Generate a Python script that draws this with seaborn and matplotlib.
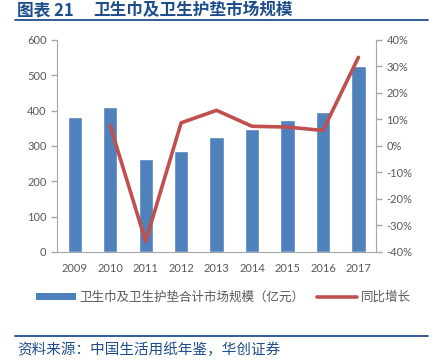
import numpy as np
import pandas as pd
import matplotlib
matplotlib.use('Agg')
import matplotlib.pyplot as plt
import seaborn as sns
from matplotlib.lines import Line2D
from matplotlib.patches import Patch

# data
years = ['2009', '2010', '2011', '2012', '2013', '2014', '2015', '2016', '2017']
market_size = [382, 411, 263, 286, 324, 348, 373, 395, 527]   # 亿元
yoy_growth = [np.nan, 7.6, -36.0, 8.7, 13.4, 7.4, 7.1, 5.8, 33.4]  # %

bar_label = '卫生巾及卫生护垫合计市场规模（亿元）'
line_label = '同比增长'

sns.set_style('white')
plt.rcParams['font.family'] = ['Lato', 'Noto Sans CJK SC', 'DejaVu Sans']

df = pd.DataFrame({'year': years, 'size': market_size, 'growth': yoy_growth})
df['pos'] = df.index

blue = '#4F81BD'
red = '#C0504D'
grey = '#595959'
axis_grey = '#A6A6A6'
navy = '#1F4E8C'

fig = plt.figure(figsize=(4.42, 3.62), dpi=100)
ax = fig.add_axes([0.129, 0.304, 0.722, 0.586])

sns.barplot(data=df, x='year', y='size', color=blue, width=0.4,
            saturation=1, ax=ax)
ax.set_ylim(0, 600)
ax.set_yticks(range(0, 601, 100))
ax.set_xlim(-0.5, len(years) - 0.5)

ax2 = ax.twinx()
sns.lineplot(data=df.dropna(), x='pos', y='growth', color=red, linewidth=2.6,
             ax=ax2)
ax2.set_ylim(-40, 40)
ax2.set_yticks(range(-40, 41, 10))
ax2.set_yticklabels([f'{v}%' for v in range(-40, 41, 10)])
ax2.set_xlim(-0.5, len(years) - 0.5)

for a in (ax, ax2):
    a.set_xlabel('')
    a.set_ylabel('')
    for s in a.spines.values():
        s.set_visible(False)
    a.tick_params(axis='y', colors=axis_grey, labelcolor=grey, labelsize=8,
                  length=4, width=1, direction='out')

ax.spines['left'].set_visible(True)
ax.spines['left'].set_color(axis_grey)
ax.spines['bottom'].set_visible(True)
ax.spines['bottom'].set_color(axis_grey)
ax2.spines['right'].set_visible(True)
ax2.spines['right'].set_color(axis_grey)

# category ticks: labels in the middle, marks at the boundaries
ax.tick_params(axis='x', which='major', length=0, labelcolor=grey,
               labelsize=8, pad=8)
ax.set_xticks(np.arange(-0.5, len(years), 1), minor=True)
ax.tick_params(axis='x', which='minor', length=4, width=1, color=axis_grey)

handles = [Patch(facecolor=blue, edgecolor='none'),
           Line2D([0], [0], color=red, linewidth=2.6)]
fig.legend(handles, [bar_label, line_label], loc='center',
           bbox_to_anchor=(0.505, 0.18), ncol=2, frameon=False, fontsize=9,
           labelcolor=grey, handlelength=3.2, handleheight=0.55,
           columnspacing=1.0, handletextpad=0.3)

# title block and source
fig.text(0.038, 0.972, '图表 21', fontsize=12, fontweight='bold',
         color=navy, va='center', family=['Noto Sans CJK SC'])
fig.text(0.21, 0.972, '卫生巾及卫生护垫市场规模', fontsize=12,
         fontweight='bold', color=navy, va='center',
         family=['Noto Sans CJK SC'])
fig.add_artist(Line2D([0.034, 0.968], [0.944, 0.944], color=navy,
                      linewidth=1.3, transform=fig.transFigure))
fig.add_artist(Line2D([0.034, 0.968], [0.072, 0.072], color=navy,
                      linewidth=1.3, transform=fig.transFigure))
fig.text(0.04, 0.033, '资料来源：中国生活用纸年鉴，华创证券', fontsize=10.5,
         color=navy, va='center', family=['Noto Sans CJK SC'])

fig.savefig('out.png', dpi=100)
